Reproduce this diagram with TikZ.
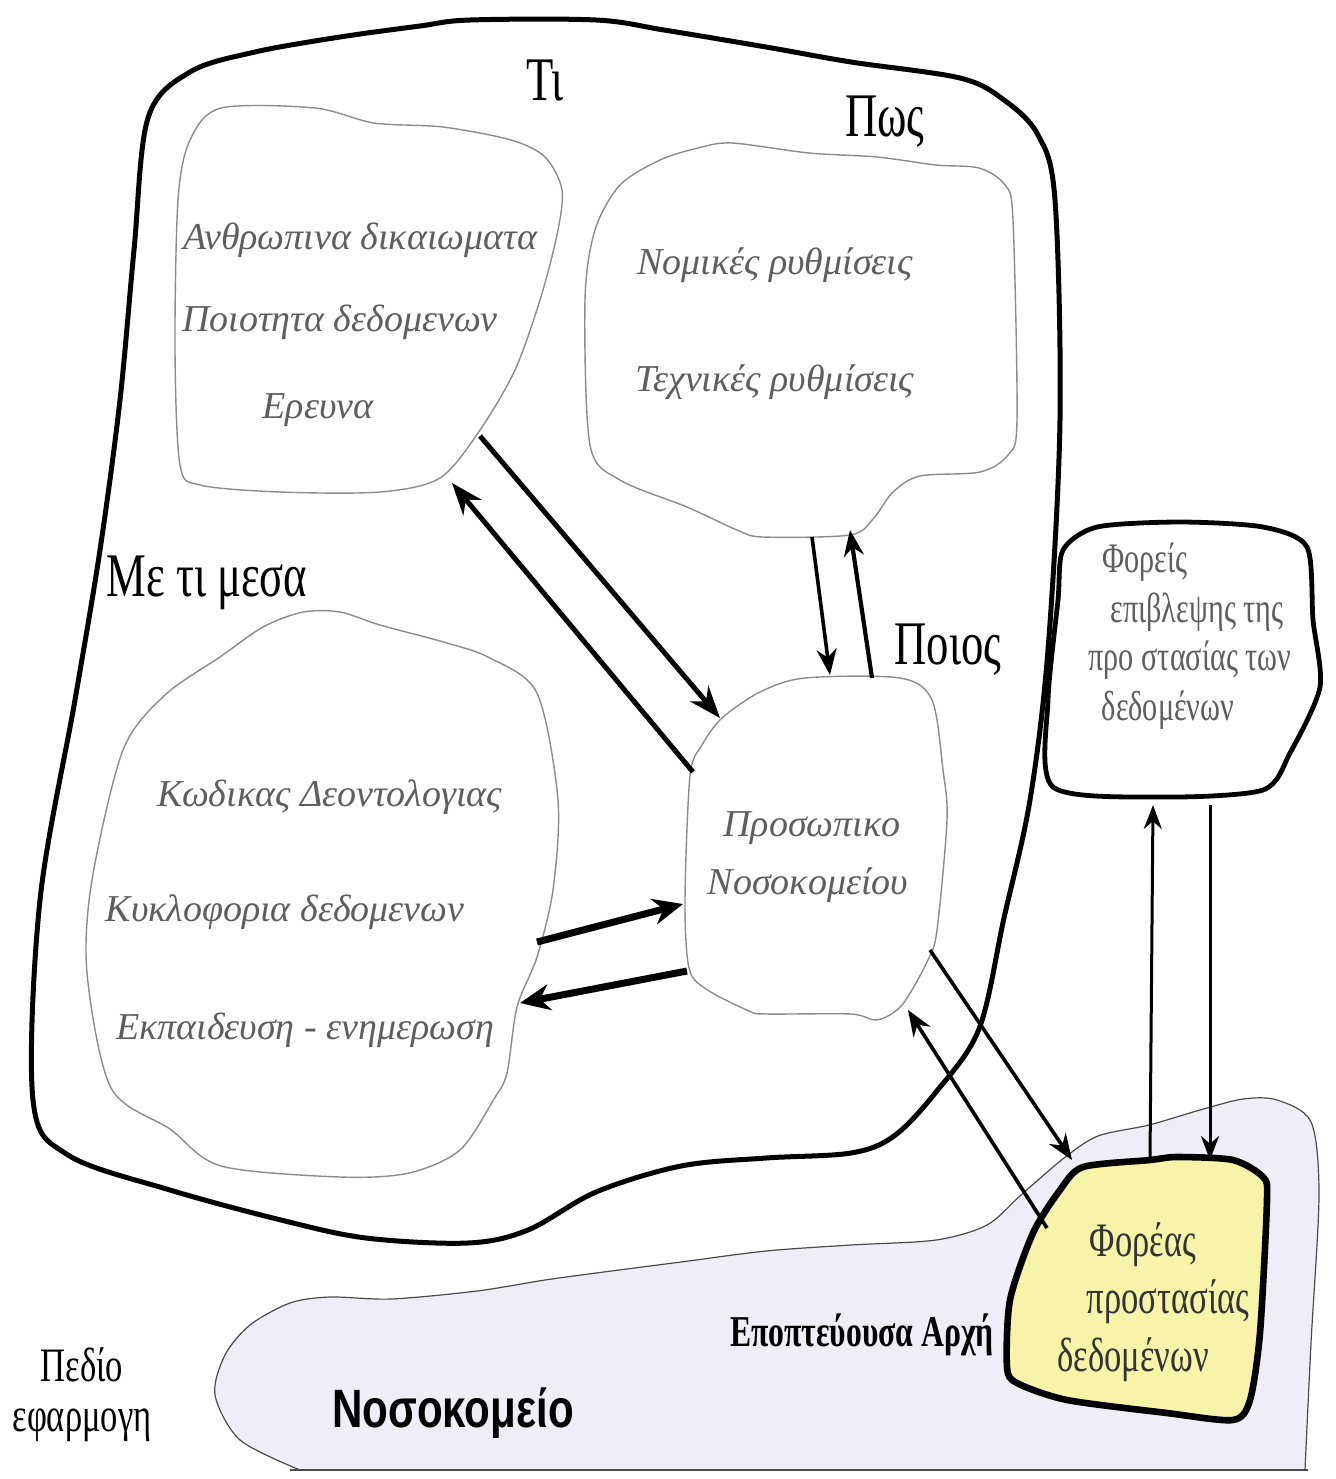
\documentclass[tikz,border=0pt]{standalone}
\usepackage{fontspec}
\setmainfont{Liberation Serif}
\newfontfamily\condserif[FakeStretch=0.72]{Liberation Serif}
\newfontfamily\condsans[FakeStretch=0.78]{Liberation Sans}
\usetikzlibrary{arrows.meta}
\definecolor{blobgray}{HTML}{8C8C8C}
\definecolor{inktext}{HTML}{5E5E5E}
\definecolor{hospfill}{HTML}{EFEEF6}
\definecolor{hospline}{HTML}{4A4A4A}
\definecolor{dpofill}{HTML}{F7F3A8}
\begin{document}
\begin{tikzpicture}[x=0.5pt,y=-0.5pt,
  thinblob/.style={draw=blobgray, line width=0.7pt, fill=white},
  thickblob/.style={draw=black, line width=2.5pt, line join=round},
  boxtext/.style={font=\fontsize{19}{22}\selectfont\itshape, text=inktext, inner sep=0pt},
  bigtag/.style={font=\condserif\fontsize{31}{33}\selectfont, inner sep=0pt},
  sidetext/.style={font=\condserif\fontsize{21}{23}\selectfont, text=inktext, inner sep=0pt},
  dpotext/.style={font=\condserif\fontsize{24}{26}\selectfont, text=black!80, inner sep=0pt},
  conn/.style={-{Stealth[length=16pt,width=12pt]}, line width=2.5pt},
  connmid/.style={-{Stealth[length=13pt,width=10pt]}, line width=1.8pt},
  connthin/.style={-{Stealth[length=12pt,width=9pt]}, line width=1.5pt},
  connthick/.style={-{Stealth[length=15pt,width=13pt]}, line width=3.5pt}]
\useasboundingbox (0,0) rectangle (1335,1479);

% hospital area
\filldraw[fill=hospfill, draw=hospline, line width=0.6pt]
  (300,1470) -- plot[smooth, tension=0.5] coordinates {(300,1470) (240,1440) (215,1395) (225,1355) (250,1325) (290,1303) (330,1297) (391,1299) (477,1291) (545,1280) (596,1273) (681,1262) (766,1251) (851,1245) (936,1240) (987,1225) (1021,1195) (1064,1158) (1098,1136) (1149,1125) (1200,1110) (1243,1099) (1277,1100) (1311,1122) (1319,1195) (1311,1343) (1305,1470)} -- cycle;
\draw[hospline, line width=1.2pt] (290,1470) -- (1308,1470);

% outer boundary of the hospital staff domain
\draw[thickblob] plot[smooth cycle, tension=0.55] coordinates {
  (134,250) (148,118) (190,72) (255,52) (340,37) (420,26) (470,20) (596,20) (664,30) (766,47) (851,62) (960,78) (1004,100) (1038,135) (1055,200) (1060,420) (1048,650) (1030,800) (1004,918) (979,1029) (936,1092) (894,1136) (851,1153) (766,1158) (681,1166) (596,1192) (528,1230) (468,1243) (366,1238) (281,1220) (170,1190) (68,1155) (33,1100) (40,900) (75,700) (100,550) (120,400)};

% inner clouds
\draw[thinblob] plot[smooth cycle, tension=0.5] coordinates {
  (221,108) (315,108) (374,123) (443,127) (511,140) (545,157) (562,190) (557,235) (540,300) (515,370) (480,430) (440,478) (380,492) (280,492) (200,485) (180,465) (175,350) (178,200) (190,140)};
\draw[thinblob] plot[smooth cycle, tension=0.5] coordinates {
  (620,185) (660,160) (698,148) (732,143) (809,153) (877,157) (936,165) (979,168) (1005,185) (1013,220) (1017,420) (1008,455) (980,472) (920,476) (893,492) (873,519) (850,535) (763,537) (737,530) (687,507) (620,480) (590,445) (585,300) (595,230)};
\draw[thinblob] plot[smooth cycle, tension=0.5] coordinates {
  (220,657) (263,627) (303,612) (340,612) (380,625) (447,643) (490,658) (537,693) (558,800) (553,890) (537,957) (517,1007) (507,1073) (494,1099) (460,1150) (409,1173) (340,1177) (221,1166) (170,1129) (111,1088) (87,973) (92,880) (123,750) (165,695)};
\draw[thinblob] plot[smooth cycle, tension=0.5] coordinates {
  (690,776) (702,745) (722,718) (760,692) (805,678) (900,678) (932,700) (943,770) (947,820) (937,930) (928,960) (902,1005) (877,1020) (851,1014) (766,1014) (749,1011) (706,989) (689,968) (685,900)};

% supervisory bodies
\draw[thickblob, line width=2.4pt, fill=white] plot[smooth cycle, tension=0.45] coordinates {
  (1063,550) (1097,527) (1180,522) (1263,527) (1307,547) (1313,620) (1320,687) (1290,753) (1263,790) (1163,797) (1053,787) (1048,700) (1058,600)};

% data protection officer
\draw[thickblob, line width=3.3pt, fill=dpofill] plot[smooth cycle, tension=0.45] coordinates {
  (1083,1167) (1150,1160) (1177,1157) (1233,1160) (1263,1177) (1267,1200) (1260,1333) (1250,1400) (1233,1420) (1167,1413) (1067,1400) (1017,1383) (1007,1367) (1010,1300) (1033,1233) (1060,1190)};

% connector end points
\coordinate (a1s) at (480,436);  \coordinate (a1e) at (720,718);
\coordinate (a2s) at (693,772);  \coordinate (a2e) at (452,483);
\coordinate (a3s) at (812,537);  \coordinate (a3e) at (830,675);
\coordinate (a4s) at (872,678);  \coordinate (a4e) at (850,530);
\coordinate (a5s) at (537,942);  \coordinate (a5e) at (683,904);
\coordinate (a6s) at (687,971);  \coordinate (a6e) at (520,1003);
\coordinate (a7s) at (930,950);  \coordinate (a7e) at (1072,1160);
\coordinate (a8s) at (1047,1228); \coordinate (a8e) at (908,1010);
\coordinate (a9s) at (1150,1160); \coordinate (a9e) at (1153,805);
\coordinate (a10s) at (1210,805); \coordinate (a10e) at (1210,1160);

\draw[conn] (a1s) -- (a1e);
\draw[conn] (a2s) -- (a2e);
\draw[connmid] (a3s) -- (a3e);
\draw[connmid, line width=2.1pt] (a4s) -- (a4e);
\draw[connthick] (a5s) -- (a5e);
\draw[connthick] (a6s) -- (a6e);
\draw[connmid] (a7s) -- (a7e);
\draw[connmid] (a8s) -- (a8e);
\draw[connthin] (a9s) -- (a9e);
\draw[connthin] (a10s) -- (a10e);

% question labels
\node[bigtag] (ti) at (545,80) {Τι};
\node[bigtag] (pos) at (885,122) {Πως};
\node[bigtag] (meti) at (207,583) {Με τι μεσα};
\node[bigtag] (poios) at (948,650) {Ποιος};

% cloud contents
\node[boxtext] (t1) at (360,240) {Ανθρωπινα δικαιωματα};
\node[boxtext] (t2) at (340,322) {Ποιοτητα δεδομενων};
\node[boxtext] (t3) at (318,410) {Ερευνα};
\node[boxtext] (t4) at (775,265) {Νομικές ρυθμίσεις};
\node[boxtext] (t5) at (775,382) {Τεχνικές ρυθμίσεις};
\node[boxtext] (t6) at (330,797) {Κωδικας Δεοντολογιας};
\node[boxtext] (t7) at (285,912) {Κυκλοφορια δεδομενων};
\node[boxtext] (t8) at (305,1030) {Εκπαιδευση - ενημερωση};
\node[boxtext] (t9) at (812,828) {Προσωπικο};
\node[boxtext] (t10) at (808,885) {Νοσοκομείου};

% supervisory bodies text
\node[sidetext] (s1) at (1145,562) {Φορείς};
\node[sidetext] (s2) at (1197,612) {επιβλεψης της};
\node[sidetext] (s3) at (1190,660) {προ στασίας των};
\node[sidetext] (s4) at (1168,710) {δεδομένων};

% officer text
\node[dpotext] (d1) at (1143,1245) {Φορέας};
\node[dpotext] (d2) at (1168,1302) {προστασίας};
\node[dpotext] (d3) at (1133,1360) {δεδομένων};

% bottom labels
\node[font=\condserif\bfseries\fontsize{22}{24}\selectfont, inner sep=0pt] (auth) at (862,1335) {Εποπτεύουσα Αρχή};
\node[font=\condsans\bfseries\fontsize{27}{29}\selectfont, inner sep=0pt] (hosp) at (453,1413) {Νοσοκομείο};
\node[font=\condserif\fontsize{24}{26}\selectfont, inner sep=0pt] (pedio) at (82,1365) {Πεδίο};
\node[font=\condserif\fontsize{24}{26}\selectfont, inner sep=0pt] (efarm) at (82,1425) {εφαρμογη};
\end{tikzpicture}
\end{document}
